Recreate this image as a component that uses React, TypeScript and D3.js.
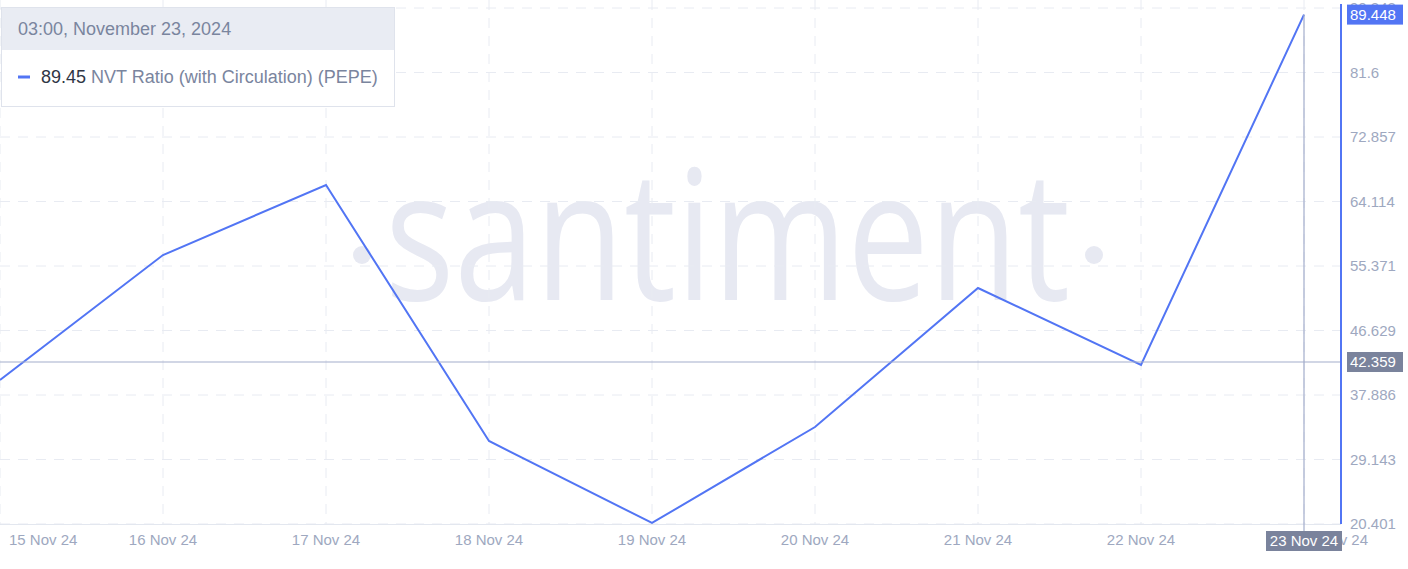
import React from 'react'
import * as d3 from 'd3'

const dates = ['15 Nov 24', '16 Nov 24', '17 Nov 24', '18 Nov 24', '19 Nov 24', '20 Nov 24', '21 Nov 24', '22 Nov 24', '23 Nov 24']
const nvt = [39.92, 56.86, 66.35, 31.65, 20.54, 33.55, 52.39, 41.95, 89.448]
const yTicks = [20.401, 29.143, 37.886, 46.629, 55.371, 64.114, 72.857, 81.6, 90.343]

const W = 1408
const H = 569
const BLUE = '#5275f4'
const GRID = '#e8ebf2'
const TXT = '#9ea8c0'
const font = '"Liberation Sans", Arial, sans-serif'

const App = () => {
  const x = d3.scalePoint<string>().domain(dates).range([0, 1304])
  const y = d3.scaleLinear().domain([20.401, 90.343]).range([524, 8])
  const axisX = 1341

  const line = d3
    .line<number>()
    .x((_, i) => x(dates[i]) as number)
    .y(d => y(d))

  const hoverVal = 42.359
  const last = nvt[nvt.length - 1]
  const n = dates.length

  return (
    <svg width={W} height={H} style={{ position: 'absolute', left: 0, top: 0, fontFamily: font }}>
      <rect width={W} height={H} fill="#fff" />

      {/* watermark */}
      <text
        x={385}
        y={300}
        fontSize={182}
        fontWeight={400}
        fill="#e7e9f2"
        textLength={685}
        lengthAdjust="spacingAndGlyphs"
        style={{ fontFamily: '"Open Sans", sans-serif' }}
      >
        santiment
      </text>
      <circle cx={362} cy={255} r={9} fill="#e7e9f2" />
      <circle cx={1094} cy={255} r={9} fill="#e7e9f2" />

      {/* grid */}
      {yTicks.map(t => (
        <line key={t} x1={0} x2={axisX} y1={y(t)} y2={y(t)} stroke={GRID} strokeDasharray="10,8" />
      ))}
      {dates.map(d => (
        <line key={d} x1={x(d)} x2={x(d)} y1={0} y2={524} stroke={GRID} strokeDasharray="10,8" />
      ))}
      <line x1={0} x2={axisX} y1={524.5} y2={524.5} stroke="#e3e7ef" />

      {/* series */}
      <path d={line(nvt) as string} fill="none" stroke={BLUE} strokeWidth={2} />

      {/* crosshair */}
      <line x1={0} x2={axisX} y1={y(hoverVal)} y2={y(hoverVal)} stroke="#a3aecb" strokeWidth={1.2} />
      <line x1={x(dates[n - 1])} x2={x(dates[n - 1])} y1={y(last)} y2={531} stroke="#a3aecb" strokeWidth={1.2} />

      {/* y axis */}
      <line x1={axisX} x2={axisX} y1={4} y2={524} stroke={BLUE} strokeWidth={2} />
      {yTicks.map(t => (
        <text key={t} x={1350} y={y(t)} dy="0.35em" fontSize={15} fill={TXT}>
          {d3.format('.3~f')(t)}
        </text>
      ))}

      {/* x labels (edge labels clamped inside) */}
      {dates.map((d, i) => (
        <text
          key={d}
          x={i === 0 ? 9 : i === n - 1 ? 1368 : (x(d) as number)}
          y={545}
          textAnchor={i === 0 ? 'start' : i === n - 1 ? 'end' : 'middle'}
          fontSize={15}
          fill={TXT}
        >
          {d}
        </text>
      ))}

      {/* value badges */}
      <rect x={1347} y={y(hoverVal) - 10} width={56} height={20} fill="#7a839c" />
      <text x={1350} y={y(hoverVal)} dy="0.35em" fontSize={15} fill="#fff">
        {d3.format('.3f')(hoverVal)}
      </text>
      <rect x={1347} y={y(last) - 10} width={56} height={20} fill={BLUE} />
      <text x={1350} y={y(last)} dy="0.35em" fontSize={15} fill="#fff">
        {d3.format('.3f')(last)}
      </text>
      <rect x={1266} y={531} width={76} height={20} fill="#7a839c" />
      <text x={1304} y={541} dy="0.35em" textAnchor="middle" fontSize={15} fill="#fff">
        {dates[n - 1]}
      </text>

      {/* tooltip */}
      <rect x={1.5} y={7.5} width={393} height={99} fill="#fff" stroke="#dfe3ec" />
      <rect x={2} y={8} width={392} height={42} fill="#e9ecf3" />
      <text x={18} y={29} dy="0.35em" fontSize={18} fill="#7a859e">
        03:00, November 23, 2024
      </text>
      <line x1={18} x2={30} y1={77} y2={77} stroke={BLUE} strokeWidth={3} />
      <text x={41} y={77} dy="0.35em" fontSize={18} fill="#7a859e">
        <tspan fill="#2f3545">{d3.format('.2f')(last)}</tspan> NVT Ratio (with Circulation) (PEPE)
      </text>
    </svg>
  )
}

export default App
